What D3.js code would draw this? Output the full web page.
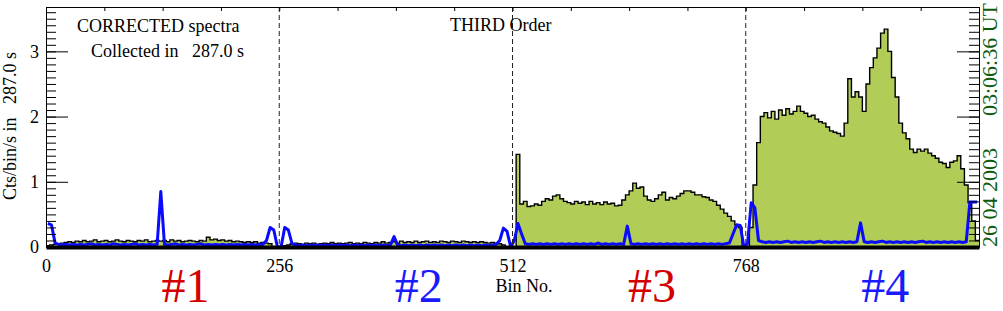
<!DOCTYPE html>
<html>
<head>
<meta charset="utf-8">
<script src="https://cdn.jsdelivr.net/npm/d3@7"></script>
<style>
  body { margin: 0; background: #fff; }
  svg text { font-family: "Liberation Serif", "DejaVu Serif", serif; }
</style>
</head>
<body>
<div id="chart"></div>
<script>
// each value covers 4 bins, 64 values per 256-bin order
const spec1 = [0.02,0.03,0.04,0.05,0.06,0.07,0.08,0.07,
  0.09,0.08,0.10,0.08,0.09,0.11,0.08,0.09,
  0.10,0.08,0.09,0.11,0.09,0.08,0.10,0.09,
  0.08,0.10,0.09,0.11,0.08,0.09,0.10,0.09,
  0.10,0.08,0.11,0.09,0.10,0.08,0.09,0.10,
  0.09,0.08,0.10,0.09,0.15,0.11,0.12,0.10,
  0.11,0.09,0.10,0.08,0.09,0.08,0.07,0.08,
  0.07,0.08,0.06,0.07,0.06,0.05,0.00,0.00];
const spec2 = [0.00,0.02,0.03,0.05,0.06,0.05,0.04,0.06,
  0.05,0.06,0.04,0.05,0.06,0.05,0.07,0.05,
  0.06,0.05,0.06,0.07,0.05,0.06,0.05,0.07,
  0.06,0.05,0.07,0.06,0.08,0.06,0.07,0.08,
  0.06,0.09,0.07,0.08,0.07,0.09,0.07,0.08,
  0.09,0.07,0.08,0.07,0.09,0.08,0.07,0.09,
  0.08,0.07,0.09,0.08,0.07,0.08,0.07,0.08,
  0.07,0.06,0.07,0.06,0.05,0.03,0.00,0.00];
const spec3 = [0.00,1.42,0.66,0.70,0.62,0.63,0.66,0.64,
  0.70,0.74,0.72,0.78,0.80,0.74,0.70,0.68,
  0.66,0.70,0.67,0.69,0.65,0.70,0.66,0.68,
  0.65,0.69,0.66,0.67,0.63,0.64,0.72,0.80,
  0.86,0.98,0.90,0.92,0.78,0.72,0.70,0.74,
  0.80,0.84,0.72,0.76,0.74,0.78,0.82,0.86,
  0.86,0.84,0.80,0.80,0.77,0.76,0.72,0.70,
  0.64,0.58,0.52,0.47,0.40,0.34,0.30,0.00];
const spec4 = [0.00,0.30,0.95,1.60,2.00,2.06,1.98,2.08,
  1.96,2.10,2.02,2.12,2.04,2.08,2.16,2.08,
  2.05,2.00,2.02,1.96,1.92,1.90,1.84,1.78,
  1.76,1.74,1.70,1.90,2.58,2.30,2.38,2.30,
  2.08,2.50,2.75,2.90,3.05,3.28,3.34,3.00,
  2.60,2.30,1.90,1.75,1.66,1.50,1.45,1.50,
  1.47,1.50,1.44,1.40,1.36,1.30,1.28,1.22,
  1.30,1.32,1.40,1.20,0.95,0.68,0.40,0.10];

const bkg1 = [0.36,0.34,0.06,0.04,0.03,0.04,0.03,0.04,
  0.03,0.04,0.03,0.04,0.05,0.03,0.04,0.03,
  0.04,0.03,0.05,0.04,0.03,0.04,0.03,0.04,
  0.05,0.03,0.04,0.03,0.04,0.03,0.04,0.85,
  0.04,0.03,0.04,0.05,0.03,0.04,0.03,0.04,
  0.03,0.04,0.05,0.03,0.04,0.03,0.04,0.03,
  0.04,0.03,0.04,0.03,0.04,0.03,0.04,0.03,
  0.04,0.03,0.04,0.04,0.10,0.30,0.26,0.00];
const bkg2 = [0.00,0.30,0.26,0.05,0.03,0.02,0.03,0.02,
  0.03,0.02,0.03,0.02,0.03,0.02,0.03,0.02,
  0.03,0.02,0.03,0.02,0.03,0.02,0.03,0.02,
  0.03,0.02,0.03,0.02,0.03,0.02,0.03,0.16,
  0.03,0.02,0.03,0.02,0.03,0.02,0.03,0.02,
  0.03,0.02,0.03,0.02,0.03,0.02,0.03,0.02,
  0.03,0.02,0.03,0.02,0.03,0.02,0.03,0.02,
  0.03,0.02,0.03,0.04,0.10,0.29,0.24,0.00];
const bkg3 = [0.10,0.36,0.20,0.05,0.04,0.05,0.04,0.05,
  0.04,0.05,0.04,0.05,0.04,0.05,0.04,0.05,
  0.04,0.05,0.04,0.05,0.04,0.05,0.04,0.06,
  0.04,0.05,0.04,0.05,0.04,0.05,0.04,0.32,
  0.05,0.04,0.05,0.04,0.05,0.04,0.05,0.04,
  0.05,0.04,0.05,0.04,0.05,0.04,0.05,0.04,
  0.05,0.04,0.05,0.04,0.05,0.04,0.05,0.04,
  0.05,0.04,0.05,0.06,0.20,0.34,0.33,0.00];
const bkg4 = [0.05,0.68,0.60,0.10,0.08,0.07,0.08,0.07,
  0.08,0.07,0.08,0.09,0.07,0.08,0.07,0.08,
  0.07,0.08,0.07,0.08,0.09,0.07,0.08,0.07,
  0.08,0.07,0.08,0.07,0.08,0.07,0.08,0.37,
  0.08,0.07,0.08,0.07,0.08,0.09,0.07,0.08,
  0.07,0.08,0.07,0.08,0.07,0.08,0.07,0.08,
  0.09,0.07,0.08,0.07,0.08,0.07,0.08,0.07,
  0.08,0.07,0.08,0.07,0.08,0.69,0.69,0.69];

const binsPerPoint = 4;
const orderEdges = [256, 512, 768];
const xTicks = [0, 256, 512, 768];
const yTicks = [0, 1, 2, 3];
const orderLabels = ["#1", "#2", "#3", "#4"];
const orderColors = ["#d40000", "#1a1aff", "#d40000", "#1a1aff"];

const w = 1003, h = 311;

const svg = d3.select("#chart").append("svg")
  .attr("width", w)
  .attr("height", h);

const x = d3.scaleLinear().domain([0, 1024]).range([46, 979]);
const y = d3.scaleLinear().domain([0, 3.68]).range([247, 7]);

// join the four orders into one spectrum, one point per 4 bins
const toSteps = arr => {
  const pts = arr.map((v, i) => ({ bin: i * binsPerPoint, v: v }));
  pts.push({ bin: arr.length * binsPerPoint, v: arr[arr.length - 1] });
  return pts;
};
const spec = toSteps([].concat(spec1, spec2, spec3, spec4));
// background is drawn through bin centres so narrow spikes stay narrow
const bkg = [].concat(bkg1, bkg2, bkg3, bkg4)
  .map((v, i) => ({ bin: i * binsPerPoint + binsPerPoint / 2, v: v }));

const area = d3.area()
  .curve(d3.curveStepAfter)
  .x(d => x(d.bin))
  .y0(y(0))
  .y1(d => y(d.v));

const stepLine = d3.line()
  .curve(d3.curveStepAfter)
  .x(d => x(d.bin))
  .y(d => y(d.v));

const bkgLine = d3.line()
  .x(d => x(d.bin))
  .y(d => y(d.v));

svg.append("path")
  .datum(spec)
  .attr("d", area)
  .attr("fill", "#b1cd58");

svg.append("path")
  .datum(spec)
  .attr("d", stepLine)
  .attr("fill", "none")
  .attr("stroke", "#000")
  .attr("stroke-width", 1.4);

svg.append("path")
  .datum(bkg)
  .attr("d", bkgLine)
  .attr("fill", "none")
  .attr("stroke", "#0a0aff")
  .attr("stroke-width", 3)
  .attr("stroke-linejoin", "round");

// dashed order separators
svg.selectAll(".sep")
  .data(orderEdges)
  .enter().append("line")
  .attr("class", "sep")
  .attr("x1", d => x(d)).attr("x2", d => x(d))
  .attr("y1", y.range()[1]).attr("y2", y.range()[0])
  .attr("stroke", "#222")
  .attr("stroke-width", 1)
  .attr("stroke-dasharray", "5,3");

// axes, ticks point inward like the IDL plot
const minor = d3.range(0, 37).map(i => i / 10);

svg.append("g")
  .attr("transform", "translate(46,0)")
  .call(d3.axisLeft(y).tickValues(yTicks).tickSizeInner(-22).tickSizeOuter(0).tickPadding(7).tickFormat(d3.format("d")));
svg.append("g")
  .attr("transform", "translate(46,0)")
  .call(d3.axisLeft(y).tickValues(minor).tickSizeInner(-10).tickSizeOuter(0).tickFormat(""));
svg.append("g")
  .attr("transform", "translate(979,0)")
  .call(d3.axisRight(y).tickValues(yTicks).tickSizeInner(-22).tickSizeOuter(0).tickFormat(""));
svg.append("g")
  .attr("transform", "translate(979,0)")
  .call(d3.axisRight(y).tickValues(minor).tickSizeInner(-10).tickSizeOuter(0).tickFormat(""));

svg.append("g")
  .attr("transform", "translate(0,7)")
  .call(d3.axisTop(x).tickValues(d3.range(0, 1025, 64)).tickSizeInner(-4).tickSizeOuter(0).tickFormat(""));

const bottom = svg.append("g")
  .attr("transform", "translate(0,247)")
  .call(d3.axisBottom(x).tickValues(xTicks).tickSizeInner(0).tickSizeOuter(0).tickPadding(12));
bottom.select(".domain").attr("stroke-width", 4);

svg.selectAll(".tick text")
  .attr("font-size", 18)
  .attr("fill", "#000")
  .style("font-family", "'Liberation Serif', serif");
svg.selectAll(".domain").attr("stroke", "#000");
svg.selectAll(".tick line").attr("stroke", "#000");

// annotations
svg.append("text")
  .attr("x", 77).attr("y", 32)
  .attr("font-size", 18)
  .text("CORRECTED spectra");
svg.append("text")
  .attr("x", 91).attr("y", 57)
  .attr("font-size", 18)
  .style("white-space", "pre")
  .text("Collected in   287.0 s");
svg.append("text")
  .attr("x", 450).attr("y", 31)
  .attr("font-size", 18)
  .text("THIRD Order");

svg.append("text")
  .attr("transform", "translate(16,126) rotate(-90)")
  .attr("text-anchor", "middle")
  .attr("font-size", 18)
  .style("white-space", "pre")
  .text("Cts/bin/s in   287.0 s");

svg.append("text")
  .attr("x", 524).attr("y", 292)
  .attr("text-anchor", "middle")
  .attr("font-size", 18)
  .text("Bin No.");

svg.append("text")
  .attr("transform", "translate(997,247) rotate(-90)")
  .attr("font-size", 22)
  .attr("fill", "#0d5a0d")
  .text("26 04 2003");
svg.append("text")
  .attr("transform", "translate(997,3) rotate(-90)")
  .attr("text-anchor", "end")
  .attr("font-size", 22)
  .attr("fill", "#0d5a0d")
  .text("03:06:36 UT");

svg.selectAll(".order")
  .data(orderLabels)
  .enter().append("text")
  .attr("class", "order")
  .attr("x", (d, i) => x(i * 256 + 153))
  .attr("y", 302)
  .attr("text-anchor", "middle")
  .attr("font-size", 48)
  .attr("fill", (d, i) => orderColors[i])
  .text(d => d);
</script>
</body>
</html>
